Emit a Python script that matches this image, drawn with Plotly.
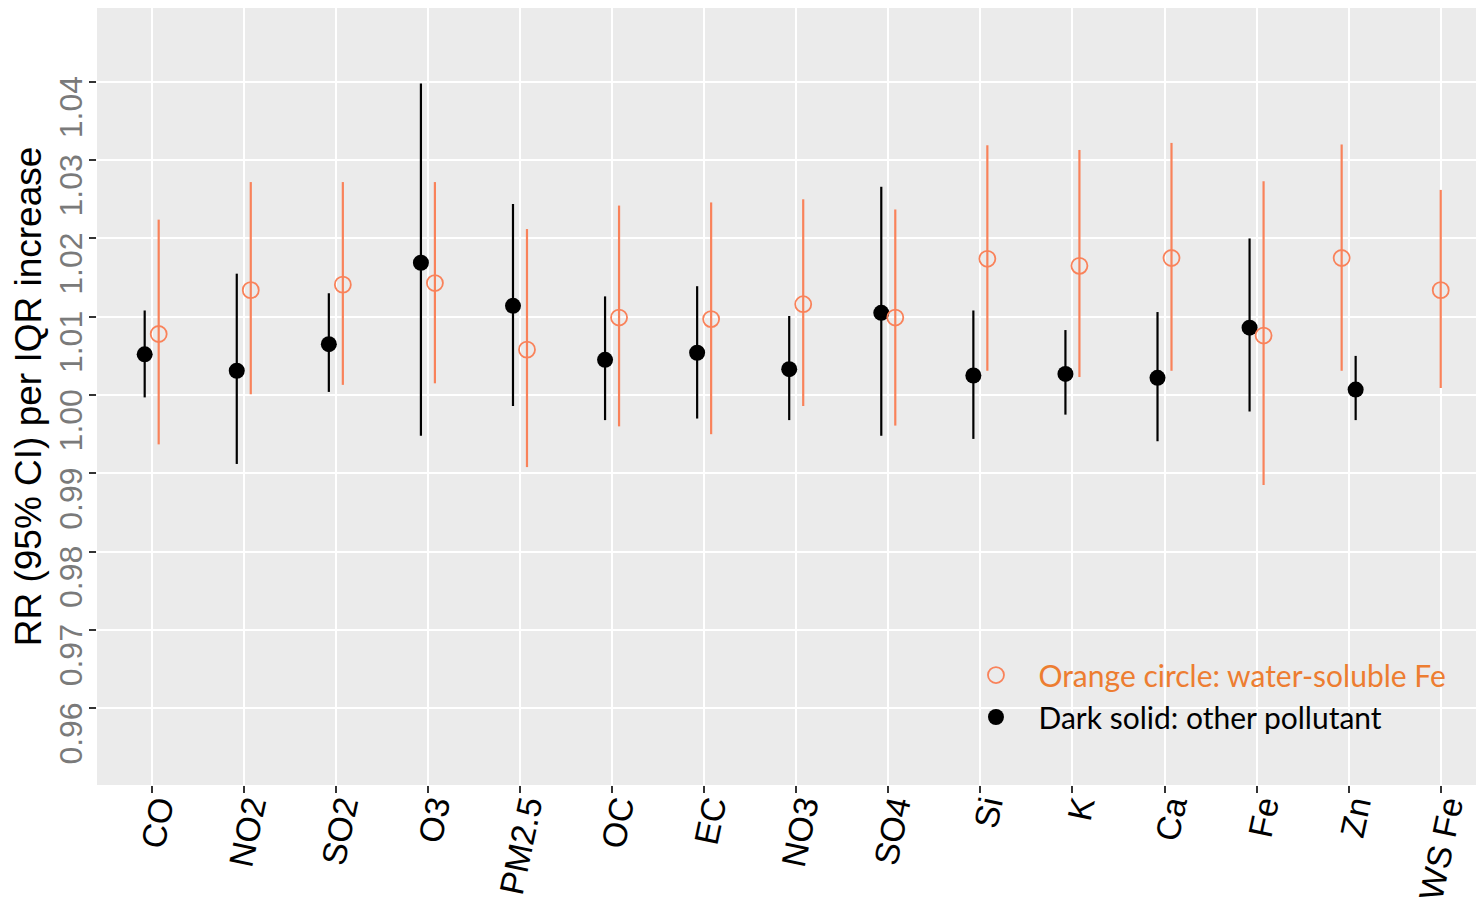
import plotly.graph_objects as go

# ---------------- data ----------------
categories = ["CO", "NO2", "SO2", "O3", "PM2.5", "OC", "EC", "NO3", "SO4",
              "Si", "K", "Ca", "Fe", "Zn", "WS Fe"]

# dark solid: other pollutant (RR and 95% CI)
other_rr = [1.0052, 1.0031, 1.0065, 1.0169, 1.0114, 1.0045, 1.0054, 1.0033, 1.0105,
            1.0025, 1.0027, 1.0022, 1.0086, 1.0007, None]
other_lo = [0.9997, 0.9912, 1.0004, 0.9948, 0.9986, 0.9968, 0.9970, 0.9968, 0.9948,
            0.9944, 0.9975, 0.9941, 0.9979, 0.9968, None]
other_hi = [1.0108, 1.0155, 1.0130, 1.0398, 1.0244, 1.0126, 1.0139, 1.0101, 1.0266,
            1.0108, 1.0083, 1.0106, 1.0200, 1.0050, None]

# orange circle: water-soluble Fe (RR and 95% CI)
wsfe_rr = [1.0078, 1.0134, 1.0141, 1.0143, 1.0058, 1.0099, 1.0097, 1.0116, 1.0099,
           1.0174, 1.0165, 1.0175, 1.0076, 1.0175, 1.0134]
wsfe_lo = [0.9937, 1.0001, 1.0013, 1.0015, 0.9908, 0.9960, 0.9950, 0.9986, 0.9961,
           1.0031, 1.0023, 1.0031, 0.9885, 1.0031, 1.0009]
wsfe_hi = [1.0224, 1.0272, 1.0272, 1.0272, 1.0212, 1.0242, 1.0246, 1.0250, 1.0237,
           1.0319, 1.0313, 1.0322, 1.0273, 1.0320, 1.0262]

y_tick_vals = [0.96, 0.97, 0.98, 0.99, 1.00, 1.01, 1.02, 1.03, 1.04]
y_tick_text = ["0.96", "0.97", "0.98", "0.99", "1.00", "1.01", "1.02", "1.03", "1.04"]
reference_rr = 1.0
swapped = {"Zn"}  # categories where the WS Fe estimate is drawn on the left

# ---------------- layout helpers ----------------
DODGE = 0.076
ORANGE = "#F9825A"
LEGEND_ORANGE = "#ED7D31"

pos = list(range(1, len(categories) + 1))
other_x, wsfe_x = [], []
for i, c in enumerate(categories):
    if other_rr[i] is None:
        other_x.append(pos[i])
        wsfe_x.append(pos[i])
    else:
        s = -1 if c in swapped else 1
        other_x.append(pos[i] - s * DODGE)
        wsfe_x.append(pos[i] + s * DODGE)

def err(rr, lo, hi):
    up = [None if r is None else h - r for r, h in zip(rr, hi)]
    dn = [None if r is None else r - l for r, l in zip(rr, lo)]
    return up, dn

o_up, o_dn = err(other_rr, other_lo, other_hi)
w_up, w_dn = err(wsfe_rr, wsfe_lo, wsfe_hi)

fig = go.Figure()

fig.add_trace(go.Scatter(
    x=other_x, y=other_rr, mode="markers",
    name="Dark solid: other pollutant",
    marker=dict(color="black", size=16, symbol="circle"),
    error_y=dict(type="data", array=o_up, arrayminus=o_dn, color="black",
                 thickness=2.2, width=0),
))

fig.add_trace(go.Scatter(
    x=wsfe_x, y=wsfe_rr, mode="markers",
    name=f'<span style="color:{LEGEND_ORANGE}">Orange circle: water-soluble Fe</span>',
    marker=dict(color="rgba(0,0,0,0)", size=16, symbol="circle",
                line=dict(color=ORANGE, width=1.8)),
    error_y=dict(type="data", array=w_up, arrayminus=w_dn, color=ORANGE,
                 thickness=2.2, width=0),
))

fig.add_hline(y=reference_rr, line=dict(color="#1a1a1a", width=1.6), layer="below")

fig.update_layout(
    width=1476, height=899,
    margin=dict(l=89, r=0, t=0, b=122, autoexpand=False),
    paper_bgcolor="white",
    plot_bgcolor="#EBEBEB",
    showlegend=True,
    legend=dict(
        x=0.6175, y=0.175, xanchor="left", yanchor="top",
        bgcolor="rgba(0,0,0,0)", traceorder="reversed",
        font=dict(family="Lato, Open Sans, sans-serif", size=30, color="black"),
        itemsizing="trace", itemwidth=75,
    ),
    xaxis=dict(
        range=[0.406, 15.47],
        tickmode="array", tickvals=pos, ticktext=categories,
        tickangle=-78,
        tickfont=dict(family="Liberation Sans, Arial", size=34, color="black"),
        showgrid=True, gridcolor="white", gridwidth=2,
        zeroline=False, showline=False,
        ticks="outside", ticklen=7, tickcolor="#333333", tickwidth=1.5,
        ticklabelstandoff=-20, ticklabelshift=6,
        automargin=False,
    ),
    yaxis=dict(
        range=[0.9502, 1.04943],
        tickmode="array", tickvals=y_tick_vals, ticktext=y_tick_text,
        tickangle=-90, ticklabelshift=30, ticklabelstandoff=-6,
        tickfont=dict(family="Liberation Sans, Arial", size=32, color="#7a7a7a"),
        showgrid=True, gridcolor="white", gridwidth=2,
        zeroline=False, showline=False,
        ticks="outside", ticklen=7, tickcolor="#333333", tickwidth=1.5,
        title=dict(text="RR (95% CI) per IQR increase",
                   font=dict(family="Liberation Sans, Arial", size=37, color="black"),
                   standoff=2),
        automargin=False,
    ),
)

fig.write_html("out.html")
